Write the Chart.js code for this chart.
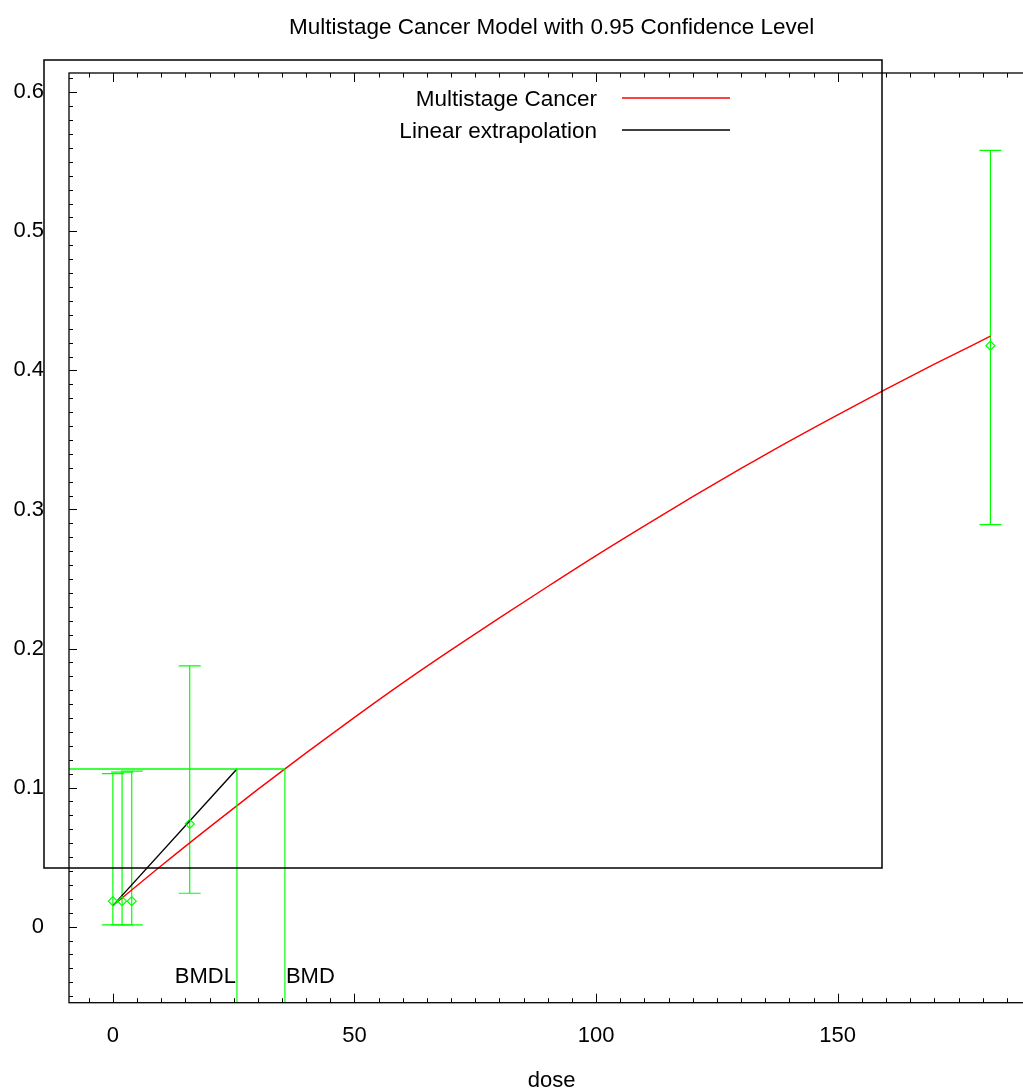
<!DOCTYPE html>
<html><head><meta charset="utf-8">
<script src="https://cdn.jsdelivr.net/npm/chart.js@4.4.1/dist/chart.umd.min.js"></script>
<style>html,body{margin:0;padding:0;background:#fff;overflow:hidden;width:1023px;height:1092px}#wrap{width:1040px;height:1092px}</style>
</head><body><div id="wrap"><canvas id="c" width="1040" height="1092"></canvas></div>
<script>
// ---- data ----
const doses     = [0, 1.9, 3.9, 15.9, 181.6];
const observed  = [0.0183, 0.0183, 0.0183, 0.0739, 0.4178];
const ciLower   = [0.0012, 0.0012, 0.0012, 0.0240, 0.2891];
const ciUpper   = [0.1101, 0.1111, 0.1118, 0.1875, 0.5583];
const modelDose = [0, 10, 20, 30, 40, 50, 60, 70, 80, 90, 100, 110, 120, 130, 140, 150, 160, 170, 181.6];
const modelResp = [0.0151, 0.0438, 0.0716, 0.0987, 0.1250, 0.1505, 0.1753, 0.1990, 0.2220, 0.2446, 0.2668, 0.2882, 0.3092, 0.3295, 0.3492, 0.3681, 0.3866, 0.4045, 0.4246];
const bmrLevel  = 0.1134;
const bmdValue  = 35.6;
const bmdlValue = 25.67;
const linearDose = [0, 25.67];
const linearResp = [0.0151, 0.1134];
const xTickValues = [0, 50, 100, 150];
const yTickValues = [0, 0.1, 0.2, 0.3, 0.4, 0.5, 0.6];
const xRange = [-9.08, 190.68];
const yRange = [-0.0547, 0.6139];
const titleText = 'Multistage Cancer Model with 0.95 Confidence Level';
const seriesNames = ['Multistage Cancer', 'Linear extrapolation'];

const FONT = 'Liberation Sans, Arial, Helvetica, sans-serif';
const GREEN = '#00ff00', RED = '#ff0000', BLACK = '#000000';

const toPts = (xs, ys) => xs.map((x, i) => ({x, y: ys[i]}));

const decor = {
  id: 'decor',
  beforeDatasetsDraw(chart) {
    const {ctx, scales: {x, y}} = chart;
    const a = chart.chartArea;
    ctx.save();
    ctx.beginPath(); ctx.rect(a.left, a.top, a.right - a.left, a.bottom - a.top); ctx.clip();
    ctx.strokeStyle = GREEN; ctx.lineWidth = 1.2;
    doses.forEach((d, i) => {
      const px = x.getPixelForValue(d);
      const lo = y.getPixelForValue(ciLower[i]);
      const hi = y.getPixelForValue(ciUpper[i]);
      ctx.beginPath();
      ctx.moveTo(px, lo); ctx.lineTo(px, hi);
      ctx.moveTo(px - 11, lo); ctx.lineTo(px + 11, lo);
      ctx.moveTo(px - 11, hi); ctx.lineTo(px + 11, hi);
      ctx.stroke();
    });
    ctx.restore();
  },
  afterDraw(chart) {
    const {ctx, scales: {x, y}} = chart;
    const a = chart.chartArea;
    ctx.save();
    ctx.strokeStyle = BLACK; ctx.lineWidth = 1.3;
    ctx.strokeRect(a.left, a.top, a.right - a.left, a.bottom - a.top);
    ctx.lineWidth = 1;
    ctx.beginPath();
    for (let v = -5; v <= 190; v += 5) {
      const px = Math.round(x.getPixelForValue(v)) + 0.5;
      const len = (v % 50 === 0) ? 9 : 4.5;
      ctx.moveTo(px, a.bottom); ctx.lineTo(px, a.bottom - len);
      ctx.moveTo(px, a.top); ctx.lineTo(px, a.top + len);
    }
    for (let k = -5; k <= 61; k++) {
      const v = k / 100;
      const py = Math.round(y.getPixelForValue(v)) + 0.5;
      const len = (k % 10 === 0) ? 8 : 4;
      ctx.moveTo(a.left, py); ctx.lineTo(a.left + len, py);
      ctx.moveTo(a.right, py); ctx.lineTo(a.right - len, py);
    }
    ctx.stroke();
    // outer box present in the original image
    ctx.lineWidth = 1.5;
    ctx.strokeRect(44, 60, 838, 808);
    // legend
    ctx.font = '22.5px ' + FONT;
    ctx.fillStyle = BLACK; ctx.textAlign = 'right'; ctx.textBaseline = 'middle';
    const legendColors = [RED, BLACK];
    seriesNames.forEach((n, i) => {
      const yy = 100 + i * 32;
      ctx.fillText(n, 597, yy);
      ctx.strokeStyle = legendColors[i]; ctx.lineWidth = 1.3;
      ctx.beginPath(); ctx.moveTo(622, yy - 2); ctx.lineTo(730, yy - 2); ctx.stroke();
    });
    // BMD labels
    ctx.font = '22px ' + FONT;
    const ly = y.getPixelForValue(-0.036);
    ctx.textAlign = 'right';
    ctx.fillText('BMDL', x.getPixelForValue(bmdlValue) - 1, ly);
    ctx.textAlign = 'left';
    ctx.fillText('BMD', x.getPixelForValue(bmdValue) + 1, ly);
    ctx.restore();
  }
};

new Chart(document.getElementById('c'), {
  type: 'scatter',
  data: {
    datasets: [
      { label: seriesNames[0], data: toPts(modelDose, modelResp), showLine: true, borderColor: RED, borderWidth: 1.4, pointRadius: 0, cubicInterpolationMode: 'monotone', order: 4 },
      { label: seriesNames[1], data: toPts(linearDose, linearResp), showLine: true, borderColor: BLACK, borderWidth: 1.4, pointRadius: 0, order: 3 },
      { label: 'data', data: toPts(doses, observed), pointStyle: 'rectRot', pointRadius: 4.5, borderColor: GREEN, backgroundColor: 'rgba(0,0,0,0)', borderWidth: 1.2, order: 2 },
      { label: 'bmr', data: [{x: xRange[0], y: bmrLevel}, {x: bmdValue, y: bmrLevel}], showLine: true, borderColor: GREEN, borderWidth: 1.6, pointRadius: 0, order: 1 },
      { label: 'bmdl', data: [{x: bmdlValue, y: bmrLevel}, {x: bmdlValue, y: yRange[0]}], showLine: true, borderColor: GREEN, borderWidth: 1.2, pointRadius: 0, order: 1 },
      { label: 'bmd', data: [{x: bmdValue, y: bmrLevel}, {x: bmdValue, y: yRange[0]}], showLine: true, borderColor: GREEN, borderWidth: 1.2, pointRadius: 0, order: 1 }
    ]
  },
  options: {
    responsive: false,
    animation: false,
    devicePixelRatio: 1,
    layout: { padding: 0 },
    plugins: {
      legend: { display: false },
      tooltip: { enabled: false },
      title: {
        display: true, text: titleText, fullSize: false, color: BLACK,
        font: { family: FONT, size: 22.5, weight: 'normal', lineHeight: 1.2 },
        padding: { top: 14.5, bottom: 31.5 }
      }
    },
    scales: {
      x: {
        type: 'linear', position: 'bottom', min: xRange[0], max: xRange[1],
        grid: { display: false, drawTicks: false }, border: { display: false },
        afterBuildTicks: s => { s.ticks = xTickValues.map(v => ({value: v})); },
        afterFit: s => { s.height = 89.3; },
        ticks: { color: BLACK, font: { family: FONT, size: 22 }, padding: 20, maxRotation: 0, callback: v => String(v) },
        title: { display: true, text: 'dose', color: BLACK, font: { family: FONT, size: 22, lineHeight: 1 }, padding: { top: 0, bottom: 0 } }
      },
      y: {
        type: 'linear', position: 'left', min: yRange[0], max: yRange[1],
        grid: { display: false, drawTicks: false }, border: { display: false },
        afterBuildTicks: s => { s.ticks = yTickValues.map(v => ({value: v})); },
        afterFit: s => { s.width = 69; },
        ticks: { color: BLACK, font: { family: FONT, size: 22 }, padding: 25, callback: v => v === 0 ? '0' : v.toFixed(1) }
      }
    }
  },
  plugins: [decor]
});
</script></body></html>
